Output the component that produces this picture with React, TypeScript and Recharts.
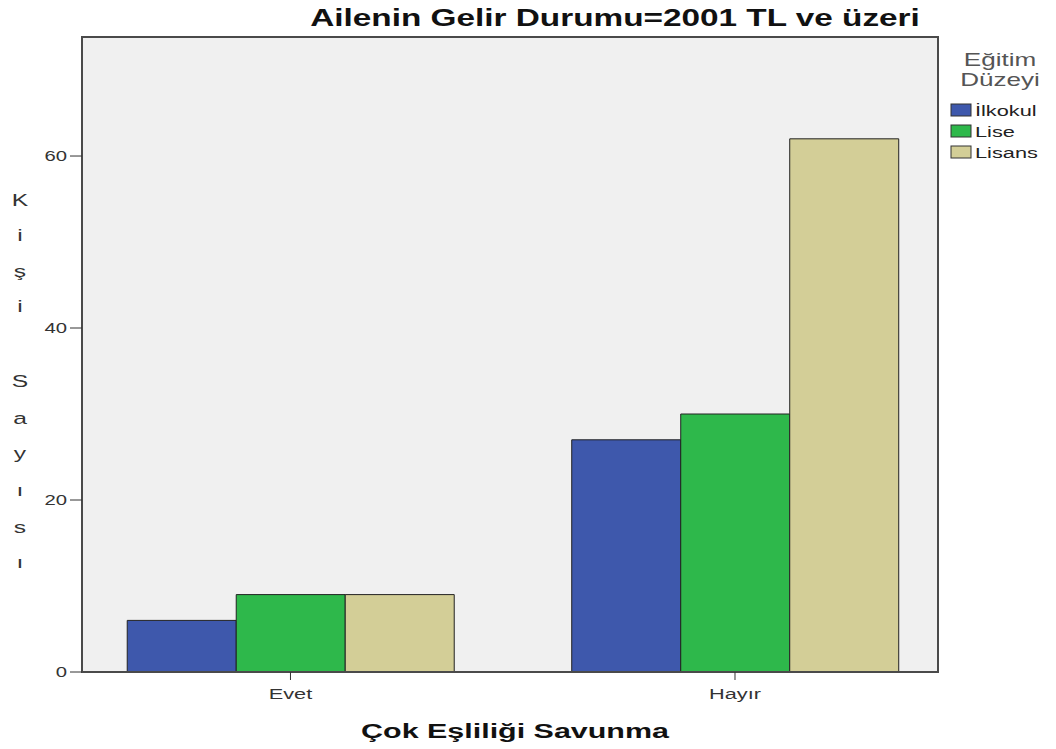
import React from 'react';
import { BarChart, Bar, XAxis, YAxis, ReferenceArea } from 'recharts';

const categories = ['Evet', 'Hayır'];
const ilkokul = [6, 27];
const lise = [9, 30];
const lisans = [9, 62];
const yTicks = [0, 20, 40, 60];
const seriesNames = ['İlkokul', 'Lise', 'Lisans'];
const seriesColors = ['#3e58ac', '#2eb84b', '#d3ce97'];

const data = categories.map((c, i) => ({
  pos: i,
  name: c,
  İlkokul: ilkokul[i],
  Lise: lise[i],
  Lisans: lisans[i],
}));

const FONT = '"Liberation Sans", Arial, sans-serif';
const SX = 1.45;
const yLabel = 'Kişi Sayısı';
const letterY = [206, 241, 277, 312, 0, 387, 424, 459, 496, 533, 568];

const YTick = (props: any) => {
  const { x, y, payload } = props;
  return (
    <text transform={`translate(${x - 1},${y + 5}) scale(${SX},1)`} textAnchor="end" fill="#333" fontSize={14} fontFamily={FONT}>
      {payload.value}
    </text>
  );
};

const XTick = (props: any) => {
  const { x, payload } = props;
  return (
    <text transform={`translate(${x},${699}) scale(${SX},1)`} textAnchor="middle" fill="#333" fontSize={15} fontFamily={FONT}>
      {categories[payload.value]}
    </text>
  );
};

export default function App() {
  return (
    <div style={{ position: 'absolute', left: 0, top: 0, width: 1056, height: 749, background: '#fff', fontFamily: FONT }}>
      <BarChart
        width={1056}
        height={749}
        data={data}
        margin={{ top: 37, right: 118, left: 22, bottom: 47 }}
        barGap={0}
      >
        <ReferenceArea x1={-0.469} x2={1.4567} y1={0} y2={73.84} fill="#f0f0f0" fillOpacity={1} stroke="#4a4a4a" strokeWidth={2} ifOverflow="visible" />
        <XAxis
          type="number"
          dataKey="pos"
          domain={[-0.469, 1.4567]}
          allowDataOverflow
          ticks={[0, 1]}
          tickSize={8}
          height={30}
          axisLine={{ stroke: '#4a4a4a', strokeWidth: 2 }}
          tickLine={{ stroke: '#333' }}
          tick={<XTick />}
        />
        <YAxis
          domain={[0, 73.84]}
          allowDataOverflow
          ticks={yTicks}
          width={60}
          tickSize={12}
          axisLine={{ stroke: '#4a4a4a', strokeWidth: 2 }}
          tickLine={{ stroke: '#333' }}
          tick={<YTick />}
        />
        {seriesNames.map((n, i) => (
          <Bar key={n} dataKey={n} fill={seriesColors[i]} stroke="#222" strokeWidth={1} barSize={109} isAnimationActive={false} />
        ))}
      </BarChart>
      <svg width={1056} height={749} style={{ position: 'absolute', left: 0, top: 0, pointerEvents: 'none' }} fontFamily={FONT}>
        <text transform={`translate(615,26) scale(${SX},1)`} textAnchor="middle" fontWeight="bold" fontSize={23} fill="#111">
          Ailenin Gelir Durumu=2001 TL ve üzeri
        </text>
        <text transform={`translate(515,738) scale(${SX},1)`} textAnchor="middle" fontWeight="bold" fontSize={21} fill="#111">
          Çok Eşliliği Savunma
        </text>
        {yLabel.split('').map((ch, i) =>
          ch === ' ' ? null : (
            <text key={i} transform={`translate(20,${letterY[i]}) scale(${SX},1)`} textAnchor="middle" fontSize={17} fill="#333">
              {ch}
            </text>
          )
        )}
        <text transform={`translate(1000,66) scale(${SX},1)`} textAnchor="middle" fontSize={18} fill="#555">Eğitim</text>
        <text transform={`translate(1000,86) scale(${SX},1)`} textAnchor="middle" fontSize={18} fill="#555">Düzeyi</text>
        {seriesNames.map((n, i) => (
          <g key={n}>
            <rect x={951} y={104 + i * 21} width={20} height={12} fill={seriesColors[i]} stroke="#333" strokeWidth={1} />
            <text transform={`translate(975,${116 + i * 21}) scale(${SX},1)`} fontSize={15} fill="#222">{n}</text>
          </g>
        ))}
      </svg>
    </div>
  );
}
